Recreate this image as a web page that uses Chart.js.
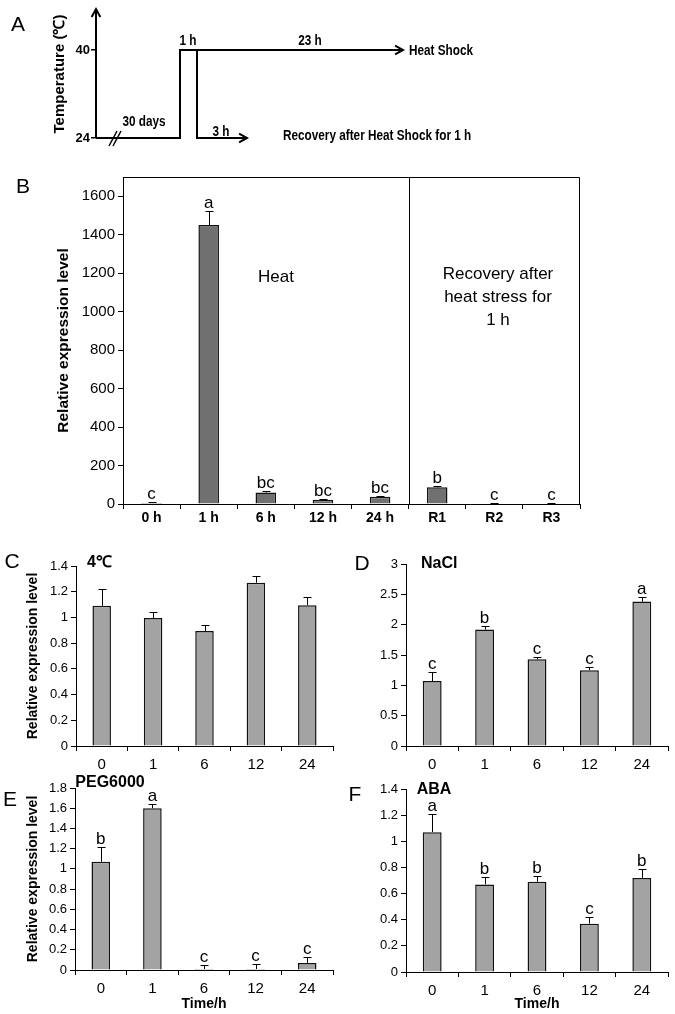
<!DOCTYPE html>
<html><head><meta charset="utf-8">
<script src="https://cdn.jsdelivr.net/npm/chart.js@4.4.1/dist/chart.umd.min.js"></script>
<style>
html,body{margin:0;padding:0;background:#fff;}
#fig{position:relative;width:675px;height:1014px;overflow:hidden;font-family:"Liberation Sans",Arial,sans-serif;color:#000;}
canvas{position:absolute;}
.t{position:absolute;transform:translate(-50%,-50%);white-space:nowrap;line-height:1;}
.l{position:absolute;transform:translate(0,-50%);white-space:nowrap;line-height:1;}
.pl{font-size:21px;}
.nar{font-weight:bold;font-size:14px;}
.t.nar{transform:translate(-50%,-50%) scaleX(0.84);}
.l.nar{transform:translate(0,-50%) scaleX(0.84);transform-origin:0 50%;}
.ttl{font-weight:bold;font-size:16px;}
.big{font-size:17px;text-align:center;line-height:1.35;}
</style></head>
<body><div id="fig">
<canvas id="cA" width="675" height="160" style="left:0;top:0"></canvas>
<canvas id="cB" width="590" height="370" style="left:0;top:165px"></canvas>
<canvas id="cC" width="340" height="235" style="left:0;top:540px"></canvas>
<canvas id="cD" width="340" height="235" style="left:335px;top:540px"></canvas>
<canvas id="cE" width="340" height="239" style="left:0;top:775px"></canvas>
<canvas id="cF" width="340" height="239" style="left:335px;top:775px"></canvas>

<div class="t pl" style="left:18px;top:23px">A</div>
<div class="t pl" style="left:23px;top:185px">B</div>
<div class="t pl" style="left:12px;top:560px">C</div>
<div class="t pl" style="left:362px;top:562px">D</div>
<div class="t pl" style="left:10px;top:798px">E</div>
<div class="t pl" style="left:355px;top:793px">F</div>

<div class="t" style="left:58px;top:74px;font-weight:bold;font-size:15px;transform:translate(-50%,-50%) rotate(-90deg)">Temperature (℃)</div>
<div class="t nar" style="left:188px;top:40px">1 h</div>
<div class="t nar" style="left:310px;top:40px">23 h</div>
<div class="l nar" style="left:409px;top:50px">Heat Shock</div>
<div class="t nar" style="left:144px;top:121px">30 days</div>
<div class="t nar" style="left:221px;top:131px">3 h</div>
<div class="l nar" style="left:283px;top:135px">Recovery after Heat Shock for 1 h</div>

<div class="t big" style="left:276px;top:277px">Heat</div>
<div class="t big" style="left:498px;top:297px">Recovery after<br>heat stress for<br>1 h</div>

<div class="l ttl" style="left:87px;top:562px">4℃</div>
<div class="l ttl" style="left:421px;top:563px">NaCl</div>
<div class="t ttl" style="left:110px;top:782px">PEG6000</div>
<div class="t ttl" style="left:434px;top:789px">ABA</div>
</div>
<script>
// A: schematic of the treatment (x in arbitrary time units, y in °C)
const schemeHeatX = [0, 84, 84, 307];
const schemeHeatY = [24, 24, 40, 40];
const schemeRecX = [101, 101, 151];
const schemeRecY = [40, 24, 24];
const schemeTicks = [24, 40];

// B: heat stress
const heatLabels = ["0 h", "1 h", "6 h", "12 h", "24 h", "R1", "R2", "R3"];
const heatMeans = [5, 1450, 60, 22, 38, 87, 3, 3];
const heatErr = [3, 72, 6, 5, 5, 4, 1, 1];
const heatLetters = ["c", "a", "bc", "bc", "bc", "b", "c", "c"];

// C–F: other stresses
const timeLabels = ["0", "1", "6", "12", "24"];
const coldMeans = [1.09, 0.995, 0.895, 1.27, 1.095];
const coldErr = [0.13, 0.045, 0.045, 0.05, 0.065];
const naclMeans = [1.07, 1.92, 1.43, 1.25, 2.38];
const naclErr = [0.15, 0.05, 0.04, 0.06, 0.07];
const naclLetters = ["c", "b", "c", "c", "a"];
const pegMeans = [1.07, 1.60, 0.01, 0.01, 0.07];
const pegErr = [0.15, 0.04, 0.04, 0.05, 0.06];
const pegLetters = ["b", "a", "c", "c", "c"];
const abaMeans = [1.07, 0.67, 0.69, 0.37, 0.72];
const abaErr = [0.14, 0.055, 0.045, 0.05, 0.07];
const abaLetters = ["a", "b", "b", "c", "b"];

const FONT = '"Liberation Sans", Arial, sans-serif';

function arrow(ctx, x, y, ang) {
  const L = 9;
  ctx.beginPath();
  ctx.moveTo(x - L * Math.cos(ang - 0.5), y - L * Math.sin(ang - 0.5));
  ctx.lineTo(x, y);
  ctx.lineTo(x - L * Math.cos(ang + 0.5), y - L * Math.sin(ang + 0.5));
  ctx.stroke();
}

// arrows, y axis and the "//" break for panel A
const schemeDeco = {
  id: "schemeDeco",
  afterDatasetsDraw(chart) {
    const { ctx, chartArea: a, scales: { x, y } } = chart;
    ctx.save();
    ctx.strokeStyle = "#000"; ctx.lineWidth = 2; ctx.lineCap = "butt";
    ctx.beginPath(); ctx.moveTo(a.left, y.getPixelForValue(24)); ctx.lineTo(a.left, 9); ctx.stroke();
    arrow(ctx, a.left, 9, -Math.PI / 2);
    chart.data.datasets.forEach((ds) => {
      const p = ds.data, n = p.length;
      const x1 = x.getPixelForValue(p[n - 2].x), y1 = y.getPixelForValue(p[n - 2].y);
      const x2 = x.getPixelForValue(p[n - 1].x), y2 = y.getPixelForValue(p[n - 1].y);
      arrow(ctx, x2, y2, Math.atan2(y2 - y1, x2 - x1));
    });
    const bx = x.getPixelForValue(19), by = y.getPixelForValue(24);
    ctx.lineWidth = 1.5;
    [-2, 2].forEach((d) => {
      ctx.beginPath(); ctx.moveTo(bx + d - 4, by + 8); ctx.lineTo(bx + d + 4, by - 7); ctx.stroke();
    });
    ctx.restore();
  }
};

new Chart(document.getElementById("cA"), {
  type: "scatter",
  data: {
    datasets: [
      { data: schemeHeatX.map((v, i) => ({ x: v, y: schemeHeatY[i] })) },
      { data: schemeRecX.map((v, i) => ({ x: v, y: schemeRecY[i] })) }
    ].map((d) => Object.assign(d, { showLine: true, borderColor: "#000", borderWidth: 2, pointRadius: 0, tension: 0, clip: false }))
  },
  options: {
    responsive: false, animation: false,
    layout: { padding: { top: 50, right: 179, bottom: 22, left: 0 } },
    plugins: { legend: { display: false }, tooltip: { enabled: false } },
    scales: {
      x: { type: "linear", min: 0, max: 400, display: false },
      y: {
        min: 24, max: 40,
        afterBuildTicks: (s) => { s.ticks = schemeTicks.map((v) => ({ value: v })); },
        afterFit: (s) => { s.width = 96; },
        border: { display: false },
        grid: { drawOnChartArea: false, tickLength: 5, color: "#000", lineWidth: 1.5 },
        ticks: { color: "#000", padding: 1, font: { family: FONT, size: 13, weight: "bold" } }
      }
    }
  },
  plugins: [schemeDeco]
});

// error bars, significance letters and optional frame
const barExtras = {
  id: "barExtras",
  afterDatasetsDraw(chart, args, o) {
    const { ctx, chartArea: a } = chart;
    const ds = chart.data.datasets[0];
    const meta = chart.getDatasetMeta(0);
    const y = chart.scales.y;
    ctx.save();
    ctx.strokeStyle = "#000"; ctx.lineWidth = 1; ctx.fillStyle = "#000";
    ctx.font = o.font; ctx.textAlign = "center"; ctx.textBaseline = "alphabetic";
    meta.data.forEach((bar, i) => {
      const top = Math.round(y.getPixelForValue(ds.data[i] + ds.errs[i])) + 0.5;
      const bx = Math.round(bar.x) + 0.5;
      ctx.beginPath();
      ctx.moveTo(bx, bar.y); ctx.lineTo(bx, top);
      ctx.moveTo(bx - 4, top); ctx.lineTo(bx + 4, top);
      ctx.stroke();
      if (ds.letters) ctx.fillText(ds.letters[i], bar.x, top - 4);
    });
    if (o.frame) {
      const xd = Math.round((meta.data[4].x + meta.data[5].x) / 2) + 0.5;
      ctx.beginPath();
      ctx.moveTo(a.left, a.top + 0.5); ctx.lineTo(a.right - 0.5, a.top + 0.5); ctx.lineTo(a.right - 0.5, a.bottom);
      ctx.moveTo(xd, a.top); ctx.lineTo(xd, a.bottom);
      ctx.stroke();
    }
    ctx.restore();
  }
};

function barPanel(id, labels, means, errs, letters, c) {
  new Chart(document.getElementById(id), {
    type: "bar",
    data: {
      labels,
      datasets: [{
        data: means, errs, letters,
        backgroundColor: c.color, borderColor: "#111", borderWidth: 1.5,
        categoryPercentage: 1, barPercentage: 0.36
      }]
    },
    options: {
      responsive: false, animation: false,
      layout: { padding: { top: c.padTop, right: c.padRight, left: 0, bottom: 0 } },
      plugins: { legend: { display: false }, tooltip: { enabled: false }, barExtras: { font: c.letterFont, frame: c.frame } },
      scales: {
        x: {
          afterFit: (s) => { s.height = c.xHeight; },
          border: { color: "#000", width: 1 },
          grid: { offset: true, drawOnChartArea: false, tickLength: 5, color: "#000" },
          ticks: { color: "#000", padding: c.xPad, font: c.xFont },
          title: c.xTitle ? { display: true, text: c.xTitle, color: "#000", padding: { top: 0, bottom: 1 }, font: { family: FONT, size: 14, weight: "bold" } } : { display: false }
        },
        y: {
          min: 0, max: c.max,
          afterBuildTicks: (s) => { s.ticks = s.ticks.filter((t) => Math.abs(t.value / c.step - Math.round(t.value / c.step)) < 1e-6); },
          afterFit: (s) => { s.width = c.yWidth; },
          border: { color: "#000", width: 1 },
          grid: { drawOnChartArea: false, tickLength: 5, color: "#000" },
          ticks: { stepSize: c.step, color: "#000", padding: 3, font: c.yFont, callback: (v) => String(+v.toFixed(2)) },
          title: c.yTitle ? { display: true, text: c.yTitle, color: "#000", padding: { top: c.yTitlePad, bottom: 0 }, font: c.yTitleFont } : { display: false }
        }
      }
    },
    plugins: [barExtras]
  });
}

const small = {
  color: "#a3a3a3", max: 1.4, step: 0.2, padRight: 7, xPad: 5,
  letterFont: "17px " + FONT,
  xFont: { family: FONT, size: 15 }, yFont: { family: FONT, size: 13 },
  yTitleFont: { family: FONT, size: 14, weight: "bold" }, yTitlePad: 25
};

barPanel("cB", heatLabels, heatMeans, heatErr, heatLetters, {
  color: "#707070", max: 1700, step: 200, padTop: 6, padRight: 10, xPad: 1,
  yWidth: 123, xHeight: 31, frame: true, letterFont: "17px " + FONT,
  xFont: { family: FONT, size: 14, weight: "bold" }, yFont: { family: FONT, size: 15 },
  yTitle: "Relative expression level", yTitleFont: { family: FONT, size: 15.5, weight: "bold" }, yTitlePad: 54
});
barPanel("cC", timeLabels, coldMeans, coldErr, null, Object.assign({}, small, {
  padTop: 26, yWidth: 76, xHeight: 29, yTitle: "Relative expression level"
}));
barPanel("cD", timeLabels, naclMeans, naclErr, naclLetters, Object.assign({}, small, {
  max: 3, step: 0.5, padTop: 24, yWidth: 71, xHeight: 29
}));
barPanel("cE", timeLabels, pegMeans, pegErr, pegLetters, Object.assign({}, small, {
  max: 1.8, padTop: 13, yWidth: 75, xHeight: 44, yTitle: "Relative expression level", xTitle: "Time/h"
}));
barPanel("cF", timeLabels, abaMeans, abaErr, abaLetters, Object.assign({}, small, {
  padTop: 14, yWidth: 71, xHeight: 42, xTitle: "Time/h"
}));
</script>
</body></html>
